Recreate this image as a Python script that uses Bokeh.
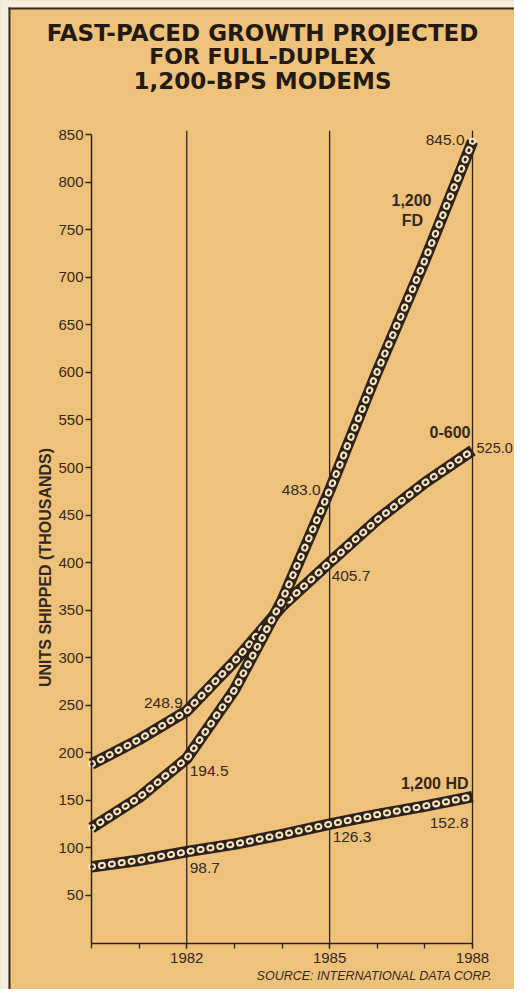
import math
from bokeh.plotting import figure
from bokeh.models import FixedTicker, Label, Range1d, BoxAnnotation
from bokeh.embed import file_html
from bokeh.resources import INLINE

# ---- data ----
years = [1980, 1981, 1982, 1983, 1984, 1985, 1986, 1987, 1988]
fd_1200 = [121, 153, 194, 266, 360, 476, 601, 718, 843]
zero_600 = [188, 214, 244, 296, 354, 400, 445, 484, 518]
hd_1200 = [80, 87, 96, 104, 114, 125, 135, 144, 154]

value_texts_1982 = ["248.9", "194.5", "98.7"]
value_texts_1985 = ["405.7", "483.0", "126.3"]
value_texts_1988 = ["845.0", "525.0", "152.8"]
series_names = ["1,200", "FD", "0-600", "1,200 HD"]

y_ticks = [50, 100, 150, 200, 250, 300, 350, 400, 450, 500, 550, 600, 650, 700, 750, 800, 850]
x_major = [1982, 1985, 1988]
x_minor = [1980, 1981, 1982, 1983, 1984, 1985, 1986, 1987, 1988]
y_top = 854

title_lines = ["FAST-PACED GROWTH PROJECTED", "FOR FULL-DUPLEX", "1,200-BPS MODEMS"]
y_label = "UNITS SHIPPED (THOUSANDS)"
source = "SOURCE: INTERNATIONAL DATA CORP."

# ---- style / layout ----
BG = "#efc27c"
PAPER = "#f4eee2"
DARK = "#2e231c"
RULE = "#3b2c20"
TXT = "#35281e"
BEAD = "#f7e4bc"
SANS = "Liberation Sans"

W, H = 514, 989
PX_X = 47.625        # px per year
PX_Y = 0.951         # px per thousand units
X0_PX = 91           # canvas x of 1980
Y0_PX = 942.5        # canvas y of 0

x_range = Range1d(years[0] - X0_PX / PX_X, years[0] + (W - X0_PX) / PX_X)
y_range = Range1d(-(H - Y0_PX) / PX_Y, Y0_PX / PX_Y)

def px_x(px):
    return x_range.start + px / PX_X

def px_y(py):
    return y_range.end - py / PX_Y

p = figure(width=W, height=H, x_range=x_range, y_range=y_range,
           output_backend="svg", toolbar_location=None,
           min_border_left=0, min_border_right=0, min_border_top=0, min_border_bottom=0)
p.background_fill_color = BG
p.border_fill_color = BG
p.outline_line_color = None
p.grid.grid_line_color = None

# paper margin and frame rule (top / left edges of the clipping)
for l, r, b, t, c in [
    (px_x(0), px_x(8), y_range.start, y_range.end, PAPER),
    (x_range.start, x_range.end, px_y(7), y_range.end, PAPER),
    (px_x(8), px_x(10), y_range.start, px_y(7), RULE),
    (px_x(8), x_range.end, px_y(9), px_y(7), RULE),
]:
    p.add_layout(BoxAnnotation(left=l, right=r, bottom=b, top=t, fill_color=c,
                               fill_alpha=1, line_color=None, level="underlay"))

# axes at fixed data locations
p.yaxis.fixed_location = years[0]
p.xaxis.fixed_location = 0
p.yaxis.ticker = FixedTicker(ticks=y_ticks)
p.yaxis.bounds = (0, y_ticks[-1])
p.yaxis.major_tick_out = 6
p.yaxis.major_tick_in = 0
p.yaxis.minor_tick_line_color = None
p.yaxis.major_label_standoff = 2
p.xaxis.ticker = FixedTicker(ticks=x_major, minor_ticks=x_minor)
p.xaxis.bounds = (years[0], years[-1])
p.xaxis.major_tick_out = 5
p.xaxis.major_tick_in = 0
p.xaxis.minor_tick_out = 5
p.xaxis.minor_tick_in = 0
p.xaxis.major_label_standoff = 5
p.xaxis.minor_tick_line_color = DARK
p.xaxis.minor_tick_line_width = 1.3
for ax in (p.xaxis, p.yaxis):
    ax.axis_line_color = DARK
    ax.axis_line_width = 1.5
    ax.major_tick_line_color = DARK
    ax.major_tick_line_width = 1.3
    ax.major_label_text_font = SANS
    ax.major_label_text_font_size = "15px"
    ax.major_label_text_color = TXT

# vertical year rules
p.segment(x0=x_major, y0=[0] * len(x_major), x1=x_major, y1=[y_top] * len(x_major),
          line_color=DARK, line_width=1.3)

# chain-like lines
for series in (hd_1200, zero_600, fd_1200):
    p.line(years, series, line_width=11.5, color=DARK, line_join="round", line_cap="butt")
    p.line(years, series, line_width=7, color=BEAD, line_dash="1 9", line_cap="round", line_join="round")
    p.line(years, series, line_width=2.8, color=DARK, line_dash="1 9", line_cap="round", line_join="round")

def add_label(x, y, text, dx, dy, align, bold=False, size="15.5px"):
    p.add_layout(Label(x=x, y=y, x_units="data", y_units="data", x_offset=dx, y_offset=dy,
                       text=text, text_align=align, text_baseline="middle",
                       text_font=SANS, text_font_size=size,
                       text_font_style="bold" if bold else "normal", text_color=TXT))

# value labels
add_label(years[2], zero_600[2], value_texts_1982[0], -4, 8, "right")
add_label(years[2], fd_1200[2], value_texts_1982[1], 3, -12, "left")
add_label(years[2], hd_1200[2], value_texts_1982[2], 3, -16, "left")
add_label(years[5], zero_600[5], value_texts_1985[0], 2, -13, "left")
add_label(years[5], fd_1200[5], value_texts_1985[1], -9, 0, "right")
add_label(years[5], hd_1200[5], value_texts_1985[2], 3, -13, "left")
add_label(years[8], fd_1200[8], value_texts_1988[0], -8, 1, "right")
add_label(years[8], zero_600[8], value_texts_1988[1], 4, 2, "left", size="14.5px")
add_label(years[8], hd_1200[8], value_texts_1988[2], -4, -26, "right")
add_label(years[8], fd_1200[8], series_names[0], -61, -59, "center", bold=True, size="16px")
add_label(years[8], fd_1200[8], series_names[1], -60, -79, "center", bold=True, size="16px")
add_label(years[8], zero_600[8], series_names[2], -2, 18, "right", bold=True, size="16px")
add_label(years[8], hd_1200[8], series_names[3], -4, 13, "right", bold=True, size="16px")

# title (screen units, origin at bottom-left of canvas)
for txt, yy, fs in zip(title_lines, [956.5, 933, 909], ["23px", "22px", "23px"]):
    p.add_layout(Label(x=262, y=yy, x_units="screen", y_units="screen", text=txt,
                       text_align="center", text_baseline="middle",
                       text_font="DejaVu Sans", text_font_style="bold",
                       text_font_size=fs, text_color="#231a14"))

# y axis label
p.add_layout(Label(x=45, y=422, x_units="screen", y_units="screen", text=y_label,
                   angle=math.pi / 2, text_align="center", text_baseline="middle",
                   text_font=SANS, text_font_style="bold", text_font_size="16px",
                   text_color=TXT))

# source
p.add_layout(Label(x=492, y=14, x_units="screen", y_units="screen", text=source,
                   text_align="right", text_baseline="middle",
                   text_font=SANS, text_font_style="italic", text_font_size="12.5px",
                   text_color=TXT))

open("out.html", "w").write(file_html(p, INLINE))
